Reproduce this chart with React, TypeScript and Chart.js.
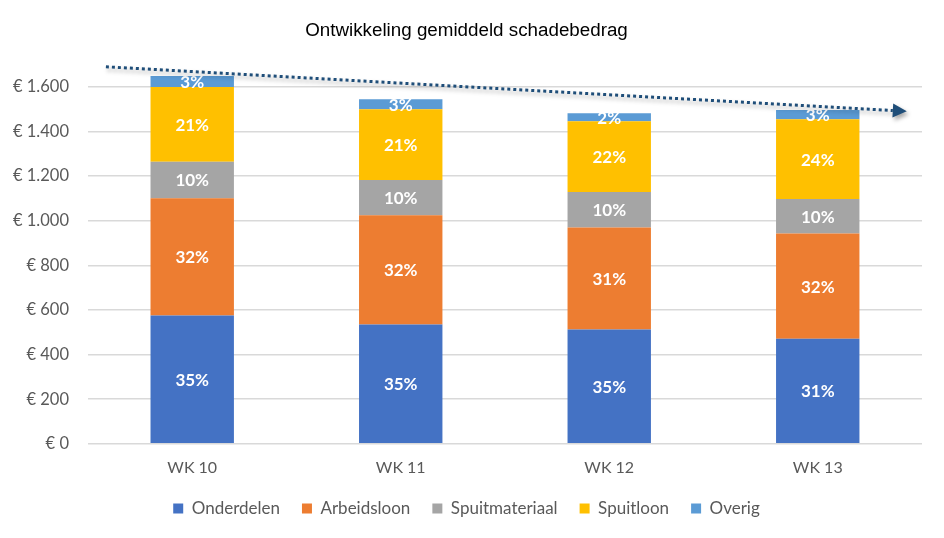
import { Chart, registerables } from 'chart.js';
import { useEffect, useRef } from 'react';

Chart.register(...registerables);

const weeks = ['WK 10', 'WK 11', 'WK 12', 'WK 13'];

const onderdelen = [575, 535, 512, 471];
const arbeidsloon = [526, 489, 458, 472];
const spuitmateriaal = [163, 159, 159, 154];
const spuitloon = [335, 317, 317, 358];
const overig = [50, 45, 36, 41];

// percentages as printed in the bars
const onderdelenPct = ['35%', '35%', '35%', '31%'];
const arbeidsloonPct = ['32%', '32%', '31%', '32%'];
const spuitmateriaalPct = ['10%', '10%', '10%', '10%'];
const spuitloonPct = ['21%', '21%', '22%', '24%'];
const overigPct = ['3%', '3%', '2%', '3%'];

const yTicks = [0, 200, 400, 600, 800, 1000, 1200, 1400, 1600];

// hand drawn trend arrow, in (category index, value) space
const trendFrom = { x: -0.414, y: 1690 };
const trendTo = { x: 3.36, y: 1494 };

const euro = (v: number) => '€ ' + String(v).replace(/\B(?=(\d{3})+(?!\d))/g, '.');

const barLabels = {
    id: 'barLabels',
    afterDatasetsDraw(chart: Chart) {
        const ctx = chart.ctx;
        ctx.save();
        ctx.font = 'bold 17px Lato';
        ctx.fillStyle = '#ffffff';
        ctx.textAlign = 'center';
        ctx.textBaseline = 'middle';
        chart.data.datasets.forEach((ds: any, i) => {
            const meta = chart.getDatasetMeta(i);
            meta.data.forEach((bar: any, j) => {
                const y = (bar.y + bar.base) / 2;
                ctx.fillText(ds.pct[j], bar.x, y + 1);
            });
        });
        ctx.restore();
    }
};

const trendArrow = {
    id: 'trendArrow',
    afterDraw(chart: Chart) {
        const { ctx, scales } = chart;
        const x1 = scales.x.getPixelForValue(trendFrom.x);
        const y1 = scales.y.getPixelForValue(trendFrom.y);
        const x2 = scales.x.getPixelForValue(trendTo.x);
        const y2 = scales.y.getPixelForValue(trendTo.y);
        const ang = Math.atan2(y2 - y1, x2 - x1);
        ctx.save();
        ctx.shadowColor = 'rgba(0,0,0,0.35)';
        ctx.shadowBlur = 4;
        ctx.shadowOffsetX = 2;
        ctx.shadowOffsetY = 3;
        ctx.strokeStyle = '#1f4e79';
        ctx.lineWidth = 3;
        ctx.setLineDash([3, 3]);
        ctx.beginPath();
        ctx.moveTo(x1, y1);
        ctx.lineTo(x2, y2);
        ctx.stroke();
        ctx.setLineDash([]);
        const len = 14;
        const w = 7;
        const tx = x2 + Math.cos(ang) * len;
        const ty = y2 + Math.sin(ang) * len;
        ctx.fillStyle = '#1f4e79';
        ctx.beginPath();
        ctx.moveTo(tx, ty);
        ctx.lineTo(x2 - Math.sin(ang) * w, y2 + Math.cos(ang) * w);
        ctx.lineTo(x2 + Math.sin(ang) * w, y2 - Math.cos(ang) * w);
        ctx.closePath();
        ctx.fill();
        ctx.restore();
    }
};

function StackedBarChart() {
    const canvasRef = useRef<HTMLCanvasElement>(null);
    const chartRef = useRef<Chart | null>(null);

    useEffect(() => {
        if (!canvasRef.current) return;
        const ctx = canvasRef.current.getContext('2d');
        if (!ctx) return;
        if (chartRef.current) chartRef.current.destroy();

        const series = [
            { label: 'Onderdelen', data: onderdelen, pct: onderdelenPct, backgroundColor: '#4472c4' },
            { label: 'Arbeidsloon', data: arbeidsloon, pct: arbeidsloonPct, backgroundColor: '#ed7d31' },
            { label: 'Spuitmateriaal', data: spuitmateriaal, pct: spuitmateriaalPct, backgroundColor: '#a5a5a5' },
            { label: 'Spuitloon', data: spuitloon, pct: spuitloonPct, backgroundColor: '#ffc000' },
            { label: 'Overig', data: overig, pct: overigPct, backgroundColor: '#5b9bd5' }
        ];

        chartRef.current = new Chart(ctx, {
            type: 'bar',
            data: {
                labels: weeks,
                datasets: series.map(s => ({
                    ...s,
                    barPercentage: 0.4,
                    categoryPercentage: 1
                })) as any
            },
            options: {
                responsive: true,
                maintainAspectRatio: false,
                animation: false,
                layout: { padding: { left: 11, right: 22, top: 0, bottom: 11 } },
                scales: {
                    x: {
                        stacked: true,
                        grid: { display: false },
                        border: { display: false },
                        ticks: { color: '#595959', font: { family: 'Lato', size: 16 }, padding: 6 },
                        afterFit: (scale: any) => {
                            scale.height -= 5;
                        }
                    },
                    y: {
                        stacked: true,
                        min: 0,
                        max: 1700,
                        afterBuildTicks: (axis: any) => {
                            axis.ticks = yTicks.map(v => ({ value: v }));
                        },
                        afterFit: (scale: any) => {
                            scale.width -= 17;
                        },
                        grid: { color: '#d9d9d9', lineWidth: 1.5, drawTicks: false },
                        border: { display: false },
                        ticks: {
                            color: '#595959',
                            font: { family: 'Lato', size: 16.5 },
                            padding: 19,
                            callback: (v: any) => euro(Number(v))
                        }
                    }
                },
                plugins: {
                    title: {
                        display: true,
                        text: 'Ontwikkeling gemiddeld schadebedrag',
                        color: '#000000',
                        font: { family: 'Liberation Sans', size: 18.8, weight: 'normal' },
                        padding: { top: 20, bottom: 22 }
                    },
                    legend: {
                        position: 'bottom',
                        labels: {
                            color: '#595959',
                            font: { family: 'Lato', size: 17 },
                            boxWidth: 10,
                            boxHeight: 10,
                            padding: 22
                        }
                    },
                    tooltip: { enabled: false }
                }
            },
            plugins: [barLabels, trendArrow]
        });

        return () => {
            if (chartRef.current) {
                chartRef.current.destroy();
                chartRef.current = null;
            }
        };
    }, []);

    return <canvas ref={canvasRef} />;
}

export default function App() {
    return (
        <div style={{ position: 'absolute', left: 0, top: 0, width: 944, height: 538, background: '#fff' }}>
            <StackedBarChart />
        </div>
    );
}
